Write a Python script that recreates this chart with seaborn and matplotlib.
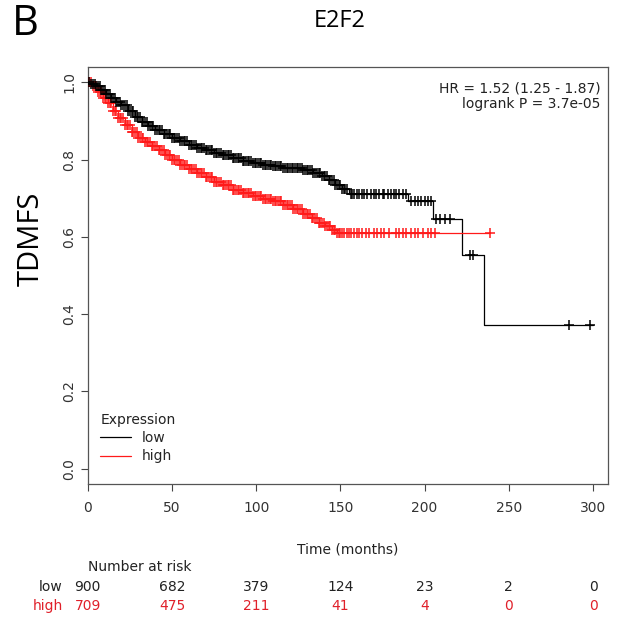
import numpy as np
import pandas as pd
import matplotlib
matplotlib.use("Agg")
import matplotlib.pyplot as plt
import matplotlib.transforms as mtransforms
from matplotlib.lines import Line2D
import seaborn as sns

# step points of the Kaplan-Meier curves (time in months, survival)
low_time = [0, 2, 5, 8, 11, 14, 17, 20, 24, 28, 32, 36, 40, 45, 50, 55, 60, 65, 70, 75,
            80, 86, 92, 98, 104, 110, 116, 122, 128, 134, 139, 143, 147, 151, 155,
            190, 205, 222, 235, 300]
low_surv = [1.0, 0.995, 0.99, 0.98, 0.97, 0.96, 0.95, 0.94, 0.925, 0.91, 0.897, 0.887,
            0.877, 0.866, 0.856, 0.847, 0.838, 0.831, 0.824, 0.818, 0.811, 0.803, 0.797,
            0.79, 0.786, 0.782, 0.779, 0.777, 0.774, 0.766, 0.757, 0.746, 0.735, 0.724,
            0.712, 0.693, 0.647, 0.554, 0.371, 0.371]
high_time = [0, 3, 6, 9, 12, 15, 18, 22, 26, 30, 34, 38, 42, 46, 50, 55, 60, 65, 70, 75,
             80, 86, 92, 98, 104, 110, 116, 122, 128, 133, 137, 141, 145, 148, 239]
high_surv = [1.0, 0.99, 0.975, 0.96, 0.945, 0.925, 0.907, 0.89, 0.872, 0.857, 0.846,
             0.836, 0.825, 0.813, 0.80, 0.787, 0.775, 0.765, 0.755, 0.743, 0.733, 0.722,
             0.713, 0.705, 0.699, 0.692, 0.683, 0.671, 0.66, 0.648, 0.637, 0.627, 0.617,
             0.61, 0.61]

# censoring times (the bands of "+" marks)
low_censor = [1, 2, 3, 4, 5, 6, 7, 8, 9, 10, 11, 12, 13, 14, 15, 16, 17, 18, 19, 20,
              21, 22, 23, 24, 25, 26, 27, 28, 29, 30, 31, 32, 33, 34, 35, 36, 37, 38, 39,
              40, 41, 42, 43, 44, 45, 46, 47, 48, 49, 50, 51, 52, 53, 54, 55, 56, 57, 58,
              59, 60, 61, 62, 63, 64, 65, 66, 67, 68, 69, 70, 71, 72, 73, 74, 75, 76, 77,
              78, 79, 80, 81, 82, 83, 84, 85, 86, 87, 88, 89, 90, 91, 92, 93, 94, 95, 96,
              97, 98, 99, 100, 101, 102, 103, 104, 105, 106, 107, 108, 109, 110, 111, 112,
              113, 114, 115, 116, 117, 118, 119, 120, 121, 122, 123, 124, 125, 126, 127,
              128, 129, 130, 131, 132, 133, 134, 135, 136, 137, 138, 139, 140, 141, 142,
              143, 144, 145, 146, 147, 148, 149, 150, 151, 152, 153, 154, 156, 157, 158,
              160, 161, 163, 164, 166, 168, 170, 171, 173, 175, 176, 178, 180, 182, 183,
              185, 187, 189, 192, 194, 196, 198, 200, 202, 204, 207, 209, 212, 215, 227,
              229, 286, 298]
high_censor = [1, 2, 3, 4, 5, 6, 7, 8, 9, 10, 11, 12, 13, 14, 15, 16, 17, 18, 19, 20,
               21, 22, 23, 24, 25, 26, 27, 28, 29, 30, 31, 32, 33, 34, 35, 36, 37, 38, 39,
               40, 41, 42, 43, 44, 45, 46, 47, 48, 49, 50, 51, 52, 53, 54, 55, 56, 57, 58,
               59, 60, 61, 62, 63, 64, 65, 66, 67, 68, 69, 70, 71, 72, 73, 74, 75, 76, 77,
               78, 79, 80, 81, 82, 83, 84, 85, 86, 87, 88, 89, 90, 91, 92, 93, 94, 95, 96,
               97, 98, 99, 100, 101, 102, 103, 104, 105, 106, 107, 108, 109, 110, 111, 112,
               113, 114, 115, 116, 117, 118, 119, 120, 121, 122, 123, 124, 125, 126, 127,
               128, 129, 130, 131, 132, 133, 134, 135, 136, 137, 138, 139, 140, 141, 142,
               143, 144, 145, 146, 147, 148, 149, 150, 151, 152, 154, 155, 156, 158, 160,
               161, 163, 165, 167, 170, 172, 174, 176, 179, 183, 185, 187, 189, 192, 194,
               196, 199, 202, 204, 206, 239]

risk_times = [0, 50, 100, 150, 200, 250, 300]
risk_low = [900, 682, 379, 124, 23, 2, 0]
risk_high = [709, 475, 211, 41, 4, 0, 0]

LOW_COL = "black"
HIGH_COL = "#ff1a1a"
HIGH_TXT = "#e0202a"


def censor_y(times, surv, cens):
    idx = np.searchsorted(times, cens, side="right") - 1
    return np.asarray(surv)[idx]


def main():
    sns.set_theme(style="ticks")
    plt.rcParams["font.family"] = ["DejaVu Sans"]

    fig = plt.figure(figsize=(6.27, 6.24), dpi=100)
    ax = fig.add_axes([0.140, 0.224, 0.830, 0.669])

    df_low = pd.DataFrame({"time": low_time, "surv": low_surv})
    df_high = pd.DataFrame({"time": high_time, "surv": high_surv})
    sns.lineplot(data=df_low, x="time", y="surv", ax=ax, color=LOW_COL, lw=0.9,
                 drawstyle="steps-post", estimator=None, sort=False)
    sns.lineplot(data=df_high, x="time", y="surv", ax=ax, color=HIGH_COL, lw=0.9,
                 drawstyle="steps-post", estimator=None, sort=False)

    cl = pd.DataFrame({"time": low_censor,
                       "surv": censor_y(low_time, low_surv, low_censor)})
    ch = pd.DataFrame({"time": high_censor,
                       "surv": censor_y(high_time, high_surv, high_censor)})
    sns.scatterplot(data=ch, x="time", y="surv", ax=ax, marker="+", s=60,
                    color=HIGH_COL, linewidth=1.1, zorder=3)
    sns.scatterplot(data=cl, x="time", y="surv", ax=ax, marker="+", s=60,
                    color=LOW_COL, linewidth=1.1, zorder=4)

    ax.set_xlim(0, 309)
    ax.set_ylim(-0.04, 1.04)
    ax.set_xticks(risk_times)
    ax.set_yticks([0.0, 0.2, 0.4, 0.6, 0.8, 1.0])
    ax.set_yticklabels(["0.0", "0.2", "0.4", "0.6", "0.8", "1.0"], rotation=90,
                       va="center")
    ax.tick_params(axis="both", length=5, width=0.8, colors="#444444",
                   labelsize=10, labelcolor="#333333")
    ax.tick_params(axis="x", pad=7)
    for sp in ax.spines.values():
        sp.set_visible(True)
        sp.set_color("#555555")
        sp.set_linewidth(0.9)
    ax.set_xlabel("")
    ax.set_ylabel("")

    handles = [Line2D([], [], color=LOW_COL, lw=0.9),
               Line2D([], [], color=HIGH_COL, lw=0.9)]
    leg = ax.legend(handles, ["low", "high"], title="Expression", loc="lower left",
                    bbox_to_anchor=(0.0, 0.02), frameon=False, fontsize=10,
                    title_fontsize=10, handlelength=2.2, alignment="left",
                    labelspacing=0.3)
    leg.get_title().set_color("#222222")

    ax.text(0.985, 0.965, "HR = 1.52 (1.25 - 1.87)\nlogrank P = 3.7e-05",
            transform=ax.transAxes, ha="right", va="top", fontsize=10,
            color="#222222", linespacing=1.15)

    fig.text(0.555, 0.120, "Time (months)", ha="center", va="center", fontsize=10,
             color="#222222")

    tr = mtransforms.blended_transform_factory(ax.transData, fig.transFigure)
    ax.text(0, 0.091, "Number at risk", transform=tr, ha="left", va="center",
            fontsize=10, color="#222222")
    ax.text(-15, 0.059, "low", transform=tr, ha="right", va="center", fontsize=10,
            color="#222222")
    ax.text(-15, 0.029, "high", transform=tr, ha="right", va="center", fontsize=10,
            color=HIGH_TXT)
    for t, nl, nh in zip(risk_times, risk_low, risk_high):
        ax.text(t, 0.059, str(nl), transform=tr, ha="center", va="center",
                fontsize=10, color="#222222")
        ax.text(t, 0.029, str(nh), transform=tr, ha="center", va="center",
                fontsize=10, color=HIGH_TXT)

    fig.text(0.040, 0.962, "B", ha="center", va="center", fontsize=30,
             family=["Open Sans"], color="black")
    fig.text(0.542, 0.966, "E2F2", ha="center", va="center", fontsize=17,
             family=["Open Sans"], color="black")
    fig.text(0.050, 0.618, "TDMFS", ha="center", va="center", fontsize=21,
             rotation=90, family=["Open Sans"], color="black")

    fig.savefig("out.png", dpi=100, facecolor="white")


if __name__ == "__main__":
    main()
